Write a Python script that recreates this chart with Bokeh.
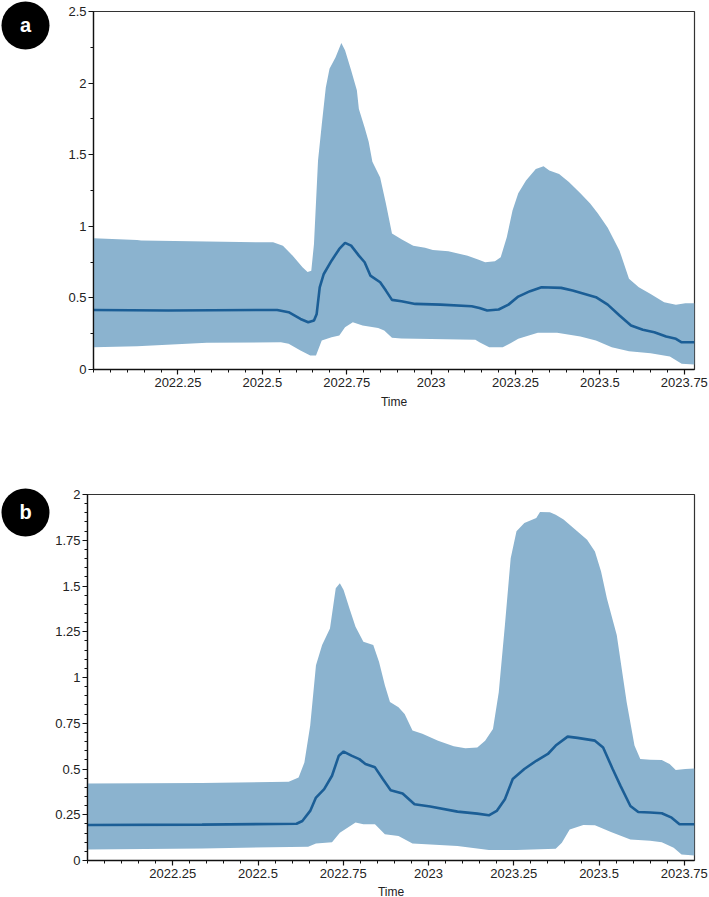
from bokeh.plotting import figure
from bokeh.layouts import column, row
from bokeh.models import FixedTicker, Range1d, Spacer
from bokeh.core.properties import value
from bokeh.embed import file_html
from bokeh.resources import INLINE
import numpy as np

# ---------------- data ----------------
X_START, X_END = 2022.0, 2023.78
x_ticks = [2022.25, 2022.5, 2022.75, 2023.0, 2023.25, 2023.5, 2023.75]
x_tick_labels = ["2022.25", "2022.5", "2022.75", "2023", "2023.25", "2023.5", "2023.75"]
x_label = "Time"
panel_letters = ["a", "b"]

# panel a
a_up_t = [2022.0, 2022.129, 2022.141, 2022.336, 2022.532, 2022.561, 2022.590, 2022.619, 2022.634, 2022.645,
          2022.653, 2022.665, 2022.676, 2022.688, 2022.699, 2022.717, 2022.734, 2022.745, 2022.763, 2022.780,
          2022.786, 2022.803, 2022.815, 2022.826, 2022.849, 2022.866, 2022.884, 2022.912, 2022.947, 2022.982,
          2023.005, 2023.051, 2023.108, 2023.143, 2023.160, 2023.189, 2023.206, 2023.224, 2023.241, 2023.258,
          2023.281, 2023.310, 2023.333, 2023.350, 2023.379, 2023.408, 2023.442, 2023.471, 2023.494, 2023.523,
          2023.558, 2023.586, 2023.615, 2023.650, 2023.690, 2023.725, 2023.753, 2023.78]
a_up = [0.916, 0.905, 0.90, 0.893, 0.888, 0.865, 0.795, 0.714, 0.68, 0.69,
        0.877, 1.46, 1.71, 1.97, 2.10, 2.18, 2.28, 2.23, 2.09, 1.95,
        1.82, 1.69, 1.59, 1.45, 1.34, 1.16, 0.95, 0.91, 0.865, 0.85,
        0.835, 0.826, 0.795, 0.765, 0.749, 0.756, 0.784, 0.923, 1.11, 1.23,
        1.32, 1.40, 1.42, 1.39, 1.365, 1.31, 1.23, 1.16, 1.09, 0.99,
        0.83, 0.633, 0.574, 0.528, 0.47, 0.453, 0.463, 0.463]
a_lo_t = [2022.0, 2022.129, 2022.336, 2022.555, 2022.578, 2022.613, 2022.642, 2022.659, 2022.676, 2022.705,
          2022.728, 2022.745, 2022.768, 2022.797, 2022.843, 2022.861, 2022.884, 2022.912, 2023.131, 2023.143,
          2023.172, 2023.212, 2023.235, 2023.258, 2023.316, 2023.373, 2023.442, 2023.488, 2023.535, 2023.586,
          2023.650, 2023.707, 2023.742, 2023.78]
a_lo = [0.156, 0.163, 0.186, 0.19, 0.179, 0.133, 0.098, 0.098, 0.202, 0.226,
        0.237, 0.295, 0.33, 0.307, 0.29, 0.272, 0.221, 0.216, 0.207, 0.19,
        0.156, 0.156, 0.184, 0.214, 0.256, 0.256, 0.23, 0.202, 0.156, 0.128,
        0.114, 0.09, 0.04, 0.035]
a_med_t = [2022.0, 2022.221, 2022.544, 2022.578, 2022.613, 2022.636, 2022.653, 2022.661, 2022.670, 2022.682,
           2022.705, 2022.728, 2022.745, 2022.763, 2022.786, 2022.803, 2022.820, 2022.849, 2022.866, 2022.884,
           2022.912, 2022.953, 2023.028, 2023.120, 2023.143, 2023.166, 2023.200, 2023.229, 2023.258, 2023.293,
           2023.327, 2023.385, 2023.419, 2023.488, 2023.523, 2023.558, 2023.592, 2023.627, 2023.661, 2023.696,
           2023.725, 2023.742, 2023.78]
a_med = [0.416, 0.412, 0.416, 0.40, 0.353, 0.33, 0.342, 0.388, 0.574, 0.667,
         0.76, 0.842, 0.884, 0.865, 0.795, 0.749, 0.656, 0.609, 0.551, 0.486,
         0.477, 0.458, 0.453, 0.442, 0.43, 0.412, 0.419, 0.453, 0.509, 0.547,
         0.574, 0.57, 0.551, 0.505, 0.453, 0.377, 0.307, 0.277, 0.26, 0.23,
         0.214, 0.19, 0.19]
a_y_ticks = [0.0, 0.5, 1.0, 1.5, 2.0, 2.5]
a_y_labels = ["0", "0.5", "1", "1.5", "2", "2.5"]
a_y_minor = [0.25, 0.75, 1.25, 1.75, 2.25]

# panel b
b_up_t = [2022.0, 2022.336, 2022.590, 2022.619, 2022.636, 2022.653, 2022.670, 2022.688, 2022.711, 2022.728,
          2022.740, 2022.751, 2022.768, 2022.786, 2022.809, 2022.838, 2022.855, 2022.872, 2022.887, 2022.912,
          2022.930, 2022.953, 2022.982, 2023.028, 2023.074, 2023.108, 2023.143, 2023.166, 2023.189, 2023.206,
          2023.224, 2023.241, 2023.258, 2023.281, 2023.316, 2023.327, 2023.356, 2023.373, 2023.396, 2023.431,
          2023.465, 2023.488, 2023.506, 2023.523, 2023.552, 2023.581, 2023.604, 2023.621, 2023.650, 2023.684,
          2023.707, 2023.725, 2023.753, 2023.78]
b_up = [0.421, 0.423, 0.43, 0.454, 0.536, 0.737, 1.067, 1.177, 1.268, 1.488,
        1.515, 1.478, 1.378, 1.277, 1.195, 1.177, 1.085, 0.957, 0.866, 0.838,
        0.801, 0.71, 0.692, 0.655, 0.624, 0.613, 0.618, 0.655, 0.719, 0.92,
        1.286, 1.652, 1.799, 1.844, 1.872, 1.905, 1.903, 1.89, 1.863, 1.808,
        1.753, 1.689, 1.579, 1.433, 1.232, 0.866, 0.628, 0.554, 0.551, 0.549,
        0.527, 0.494, 0.5, 0.503]
b_lo_t = [2022.0, 2022.336, 2022.647, 2022.670, 2022.717, 2022.740, 2022.786, 2022.809, 2022.843, 2022.872,
          2022.912, 2022.953, 2023.085, 2023.177, 2023.258, 2023.373, 2023.391, 2023.414, 2023.454, 2023.488,
          2023.535, 2023.592, 2023.650, 2023.684, 2023.719, 2023.742, 2023.78]
b_lo = [0.06, 0.066, 0.075, 0.093, 0.10, 0.152, 0.207, 0.198, 0.198, 0.143,
        0.134, 0.093, 0.079, 0.057, 0.057, 0.064, 0.097, 0.17, 0.194, 0.192,
        0.156, 0.115, 0.108, 0.10, 0.07, 0.033, 0.027]
b_med_t = [2022.0, 2022.336, 2022.613, 2022.630, 2022.653, 2022.670, 2022.694, 2022.717, 2022.737, 2022.751,
           2022.774, 2022.797, 2022.815, 2022.843, 2022.866, 2022.889, 2022.924, 2022.959, 2023.005, 2023.085,
           2023.143, 2023.177, 2023.200, 2023.224, 2023.247, 2023.281, 2023.316, 2023.350, 2023.373, 2023.408,
           2023.437, 2023.488, 2023.512, 2023.540, 2023.563, 2023.592, 2023.615, 2023.650, 2023.684, 2023.713,
           2023.736, 2023.78]
b_med = [0.194, 0.196, 0.201, 0.216, 0.271, 0.344, 0.39, 0.463, 0.573, 0.595,
         0.573, 0.554, 0.527, 0.509, 0.445, 0.384, 0.366, 0.307, 0.295, 0.267,
         0.256, 0.247, 0.271, 0.335, 0.445, 0.5, 0.545, 0.582, 0.628, 0.677,
         0.67, 0.655, 0.618, 0.5, 0.408, 0.298, 0.265, 0.262, 0.258, 0.234,
         0.198, 0.198]
b_y_ticks = [0.0, 0.25, 0.5, 0.75, 1.0, 1.25, 1.5, 1.75, 2.0]
b_y_labels = ["0", "0.25", "0.5", "0.75", "1", "1.25", "1.5", "1.75", "2"]

# ---------------- style ----------------
FONT = "Liberation Sans"
BAND = "#8BB3CF"
LINE = "#1B5E96"
BADGE_W = 50

A_TOP, A_FH, A_BOT = 11, 358, 41
B_TOP, B_FH, B_BOT = 6, 366, 37
GAP = 77
A_H = A_TOP + A_FH + A_BOT
B_H = B_TOP + B_FH + B_BOT
TOTAL_H = A_H + GAP + B_H


def badges():
    b = figure(frame_width=BADGE_W, frame_height=TOTAL_H, title=None,
               x_range=Range1d(0, BADGE_W), y_range=Range1d(TOTAL_H, 0),
               output_backend="svg", toolbar_location=None, tools="", min_border=0,
               x_axis_location=None, y_axis_location=None, align="start")
    b.outline_line_color = None
    b.background_fill_color = "white"
    b.border_fill_color = "white"
    b.grid.visible = False
    cy = [25, A_H + GAP + 25]
    b.circle(x=[25, 25], y=cy, radius=24, fill_color="black", line_color=None)
    b.text(x=[25, 25], y=[c - 1 for c in cy], text=panel_letters, text_align="center",
           text_baseline="middle", text_color="white", text_font=value(FONT),
           text_font_size="20px", text_font_style="bold")
    return b


def panel(up_t, up, lo_t, lo, med_t, med, y_end, y_ticks, y_labels, y_minor,
          left, fw, fh, top, bottom, label_standoff):
    p = figure(frame_width=fw, frame_height=fh, title=None,
               x_range=Range1d(X_START, X_END), y_range=Range1d(0, y_end),
               output_backend="svg", toolbar_location=None, tools="",
               min_border_left=left, min_border_right=14,
               min_border_top=top, min_border_bottom=bottom, align="start")
    p.grid.visible = False
    p.background_fill_color = "white"
    p.border_fill_color = "white"
    p.outline_line_color = "#333333"
    p.outline_line_width = 1.2

    xs = list(up_t) + list(lo_t)[::-1]
    ys = list(up) + list(lo)[::-1]
    p.patch(xs, ys, fill_color=BAND, line_color=None)
    p.line(med_t, med, line_color=LINE, line_width=2.6)

    x_minor = [float(v) for v in np.round(np.arange(2022.0, 2023.80, 0.05), 2)]
    p.xaxis.ticker = FixedTicker(ticks=x_ticks, minor_ticks=x_minor)
    p.xaxis.major_label_overrides = dict(zip(x_ticks, x_tick_labels))
    p.xaxis.axis_label = x_label
    p.yaxis.ticker = FixedTicker(ticks=y_ticks, minor_ticks=y_minor)
    p.yaxis.major_label_overrides = dict(zip(y_ticks, y_labels))

    for ax in (p.xaxis, p.yaxis):
        ax.axis_line_color = "#111111"
        ax.axis_line_width = 1.3
        ax.major_tick_line_color = "#111111"
        ax.minor_tick_line_color = "#111111"
        ax.major_tick_line_width = 1.2
        ax.minor_tick_line_width = 1.0
        ax.major_tick_in = 0
        ax.major_tick_out = 5
        ax.minor_tick_in = 0
        ax.minor_tick_out = 3
        ax.major_label_text_font = FONT
        ax.major_label_text_font_size = "13px"
        ax.major_label_text_color = "#222222"
        ax.axis_label_text_font = FONT
        ax.axis_label_text_font_size = "12px"
        ax.axis_label_text_font_style = "normal"
        ax.axis_label_text_color = "#222222"
    p.xaxis.major_label_standoff = 3
    p.xaxis.axis_label_standoff = label_standoff
    p.yaxis.major_label_standoff = 2
    return p


b_y_minor = [float(v) for v in np.round(np.arange(0.05, 2.0, 0.05), 2)
             if abs(v / 0.25 - round(v / 0.25)) > 1e-6]

fig_a = panel(a_up_t, a_up, a_lo_t, a_lo, a_med_t, a_med, 2.5, a_y_ticks, a_y_labels, a_y_minor,
              left=43, fw=601, fh=A_FH, top=A_TOP, bottom=A_BOT, label_standoff=5)
fig_b = panel(b_up_t, b_up, b_lo_t, b_lo, b_med_t, b_med, 2.0, b_y_ticks, b_y_labels, b_y_minor,
              left=37, fw=607, fh=B_FH, top=B_TOP, bottom=B_BOT, label_standoff=4)

layout = row(
    badges(),
    column(row(fig_a), Spacer(height=GAP), row(fig_b)),
)

open("out.html", "w").write(file_html(layout, INLINE))
